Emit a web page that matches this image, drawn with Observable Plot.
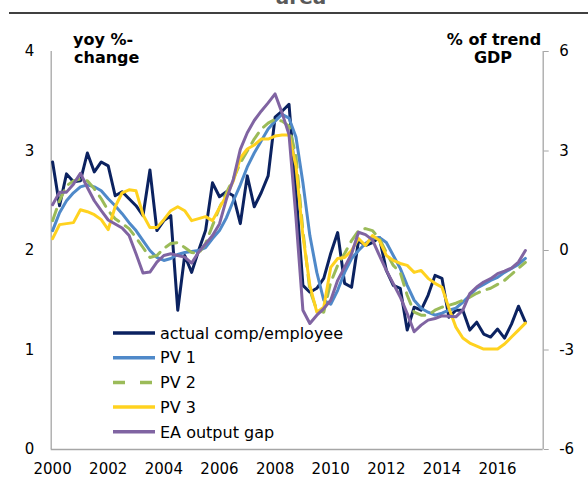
<!DOCTYPE html>
<html><head><meta charset="utf-8">
<script src="https://cdn.jsdelivr.net/npm/d3@7"></script>
<script src="https://cdn.jsdelivr.net/npm/@observablehq/plot@0.6"></script>
<style>
body{margin:0;background:#fff;font-family:"DejaVu Sans",Verdana,sans-serif;}
#wrap{position:relative;width:588px;height:480px;overflow:hidden;}
#wrap svg.over{position:absolute;left:0;top:0;pointer-events:none;}
</style></head><body><div id="wrap"></div>
<script>
// quarterly observations, 2000Q1 .. 2017Q1
const startYear = 2000;
const actual = [2.89,2.45,2.77,2.69,2.70,2.98,2.79,2.89,2.85,2.55, 2.59,2.52,2.45,2.35,2.81,2.20,2.30,2.35,1.40,1.95, 1.78,2.00,2.20,2.68,2.54,2.59,2.55,2.27,2.75,2.44, 2.58,2.75,3.34,3.40,3.47,2.60,1.65,1.58,1.62,1.72, 1.97,2.18,1.67,1.63,2.10,2.05,2.08,2.13,1.80,1.65, 1.62,1.20,1.43,1.40,1.55,1.75,1.72,1.33,1.40,1.40, 1.20,1.28,1.16,1.13,1.21,1.12,1.26,1.44,1.28];
const pv1 = [2.20,2.38,2.50,2.58,2.64,2.66,2.64,2.60,2.52,2.45, 2.37,2.28,2.20,2.10,2.00,1.93,1.90,1.92,1.96,1.98, 1.99,2.00,2.03,2.12,2.20,2.33,2.50,2.66,2.84,2.98, 3.10,3.22,3.30,3.37,3.33,3.14,2.68,2.15,1.78,1.50, 1.46,1.60,1.78,1.92,2.00,2.07,2.12,2.13,2.08,1.95, 1.82,1.65,1.50,1.42,1.38,1.35,1.37,1.40,1.42,1.48, 1.55,1.62,1.66,1.70,1.73,1.78,1.82,1.86,1.92];
const pv2 = [2.30,2.50,2.65,2.70,2.72,2.70,2.62,2.52,2.40,2.32, 2.27,2.22,2.13,2.03,1.93,1.95,2.02,2.07,2.08,2.03, 1.98,1.97,2.07,2.25,2.43,2.58,2.72,2.88,3.00,3.12, 3.22,3.28,3.32,3.30,3.25,2.95,2.20,1.60,1.40,1.38, 1.68,1.85,1.97,2.10,2.20,2.22,2.20,2.12,1.98,1.85, 1.78,1.55,1.38,1.35,1.35,1.40,1.43,1.45,1.47,1.50, 1.53,1.57,1.60,1.62,1.66,1.70,1.76,1.82,1.88];
const pv3 = [2.12,2.26,2.27,2.28,2.41,2.39,2.36,2.31,2.21,2.44, 2.58,2.61,2.60,2.36,2.23,2.23,2.31,2.40,2.44,2.40, 2.30,2.32,2.34,2.30,2.43,2.55,2.70,2.93,3.02,3.06, 3.12,3.12,3.15,3.16,3.16,2.85,2.15,1.65,1.38,1.43, 1.83,1.92,1.93,2.00,2.12,2.05,2.15,2.10,1.95,1.90, 1.87,1.85,1.78,1.80,1.72,1.67,1.63,1.42,1.23,1.12, 1.07,1.04,1.01,1.01,1.01,1.06,1.13,1.20,1.27];
const outputGap = [1.38,1.76,1.76,2.00,2.33,1.90,1.50,1.20,0.92,0.80, 0.68,0.45,-0.10,-0.68,-0.65,-0.35,-0.15,-0.10,-0.15,-0.20, -0.38,-0.05,0.20,0.45,0.80,1.55,2.15,3.05,3.55,3.92, 4.20,4.45,4.72,4.15,3.50,1.00,-1.80,-2.20,-1.95,-1.75, -1.50,-0.90,-0.50,-0.10,0.55,0.48,0.32,-0.15,-0.60,-1.00, -1.40,-1.90,-2.45,-2.25,-2.10,-2.05,-1.97,-1.98,-2.00,-1.80, -1.30,-1.10,-0.95,-0.85,-0.70,-0.62,-0.53,-0.35,0.00];

const seriesNames = ["actual comp/employee","PV 1","PV 2","PV 3","EA output gap"];
const seriesColors = ["#0b2260","#4f89c9","#9bbb59","#ffd21f","#8064a2"];
const xTicks = [2000,2002,2004,2006,2008,2010,2012,2014,2016];
const leftTicks = [0,1,2,3,4];
const rightTicks = [-6,-3,0,3,6];
const xDomain = [1999.95, 2017.64];
const leftDomain = [0,4];
const rightDomain = [-6,6];

// map right-axis values onto the left scale
const toLeft = g => leftDomain[0] + (g - rightDomain[0]) * (leftDomain[1]-leftDomain[0])/(rightDomain[1]-rightDomain[0]);
const toRight = v => rightDomain[0] + (v - leftDomain[0]) * (rightDomain[1]-rightDomain[0])/(leftDomain[1]-leftDomain[0]);

const rows = [];
const lists = [actual, pv1, pv2, pv3, outputGap];
lists.forEach((arr, k) => arr.forEach((v, i) => rows.push({
  series: seriesNames[k], t: startYear + i/4, y: k === 4 ? toLeft(v) : v
})));
const bySeries = name => rows.filter(r => r.series === name);

const axisGray = "#a6a6a6";
const lineOpts = (k) => ({x:"t", y:"y", stroke: seriesColors[k], strokeWidth: 3, strokeLinejoin:"round"});

const chart = Plot.plot({
  width: 588, height: 480,
  marginLeft: 50.7, marginRight: 45.3, marginTop: 51, marginBottom: 31,
  style: {fontFamily: '"DejaVu Sans", Verdana, sans-serif', fontSize: "15px", color: "#000", background: "#fff"},
  x: {domain: xDomain, ticks: xTicks},
  y: {domain: leftDomain},
  marks: [
    Plot.ruleY([leftDomain[0]], {stroke: axisGray, strokeWidth: 1.3}),
    Plot.ruleX([xDomain[0], xDomain[1]], {stroke: axisGray, strokeWidth: 1.3}),
    Plot.axisX(xTicks, {tickSize: 0, tickPadding: 14, tickFormat: d => String(d), label: null, fontSize: 15}),
    Plot.axisY(leftTicks, {anchor: "left", tickSize: 0, tickPadding: 17, tickFormat: d => String(d), label: null, fontSize: 15}),
    Plot.axisY(rightTicks.map(toLeft), {anchor: "right", tickSize: 5, tickPadding: 11, stroke: axisGray, tickFormat: d => String(Math.round(toRight(d))), label: null, fontSize: 15}),
    Plot.line(bySeries(seriesNames[0]), lineOpts(0)),
    Plot.line(bySeries(seriesNames[1]), lineOpts(1)),
    Plot.line(bySeries(seriesNames[2]), {...lineOpts(2), strokeDasharray: "12,8"}),
    Plot.line(bySeries(seriesNames[3]), lineOpts(3)),
    Plot.line(bySeries(seriesNames[4]), lineOpts(4))
  ]
});
const wrap = document.getElementById("wrap");
wrap.appendChild(chart);

// overlay: title remnant, rule, axis titles, legend
const NS = "http://www.w3.org/2000/svg";
const over = document.createElementNS(NS, "svg");
over.setAttribute("class", "over");
over.setAttribute("width", 588); over.setAttribute("height", 480);
function el(tag, attrs, text){ const e = document.createElementNS(NS, tag); for (const k in attrs) e.setAttribute(k, attrs[k]); if (text != null) e.textContent = text; over.appendChild(e); return e; }
const ff = '"DejaVu Sans", Verdana, sans-serif';
el("text", {x: 301, y: 4, "text-anchor": "middle", "font-family": ff, "font-size": 20, "font-weight": "bold", fill: "#595959"}, "area");
el("line", {x1: 9, x2: 588, y1: 13, y2: 13, stroke: "#000", "stroke-width": 1.5});
el("text", {x: 73, y: 45, "font-family": ff, "font-size": 16, "font-weight": "bold", fill: "#000"}, "yoy %-");
el("text", {x: 74, y: 63, "font-family": ff, "font-size": 16, "font-weight": "bold", fill: "#000"}, "change");
el("text", {x: 494, y: 45, "text-anchor": "middle", "font-family": ff, "font-size": 16, "font-weight": "bold", fill: "#000"}, "% of trend");
el("text", {x: 493, y: 63, "text-anchor": "middle", "font-family": ff, "font-size": 16, "font-weight": "bold", fill: "#000"}, "GDP");
const legendY0 = 333, legendStep = 24.7;
seriesNames.forEach((name, k) => {
  const y = legendY0 + k*legendStep;
  const a = {x1: 113, x2: 155, y1: y, y2: y, stroke: seriesColors[k], "stroke-width": 3.5};
  if (k === 2) a["stroke-dasharray"] = "12,15";
  el("line", a);
  el("text", {x: 160, y: y, dy: "0.36em", "font-family": ff, "font-size": 16, fill: "#000"}, name);
});
wrap.appendChild(over);
</script>
</body></html>
